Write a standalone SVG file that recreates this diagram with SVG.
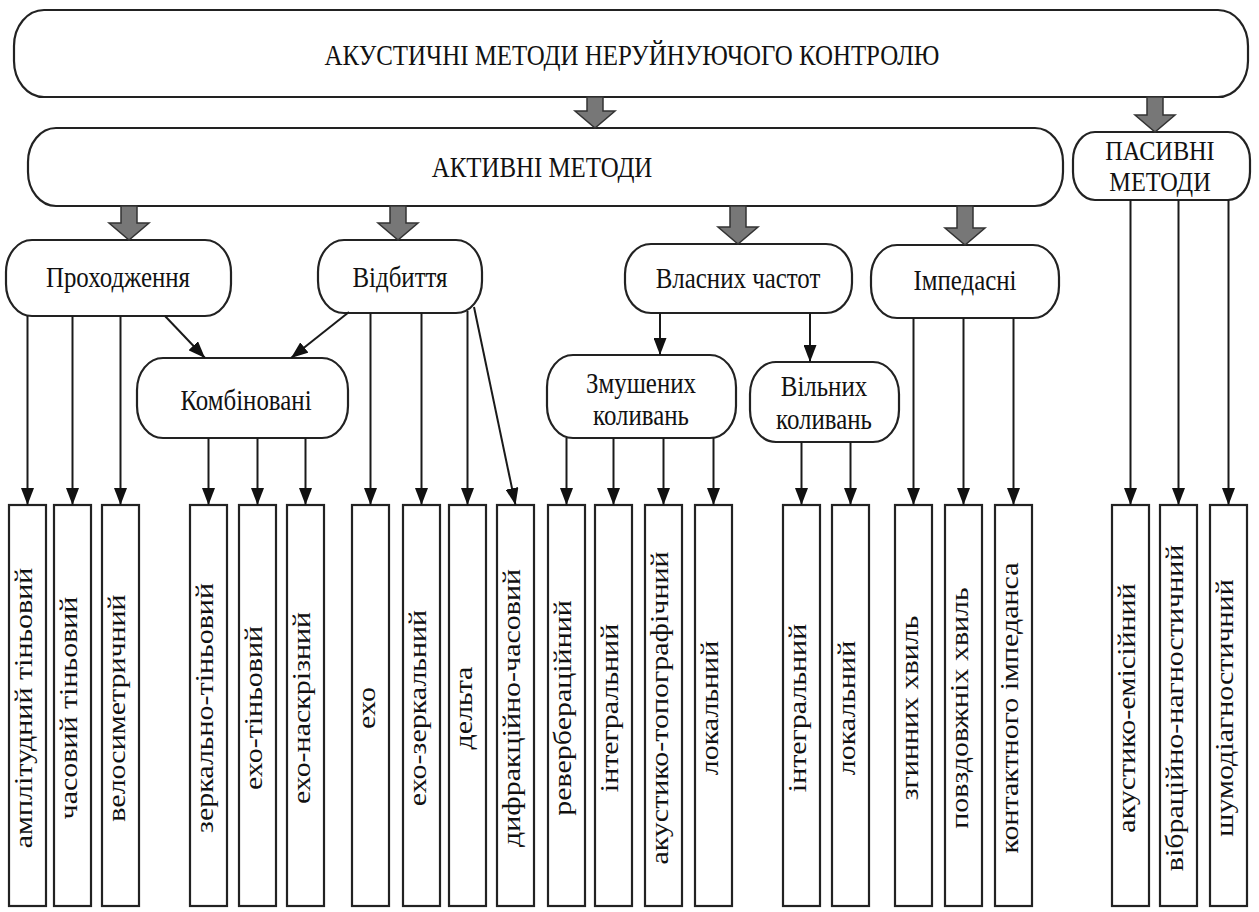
<svg xmlns="http://www.w3.org/2000/svg" width="1259" height="912" viewBox="0 0 1259 912">
  <style>
    .box { fill: #ffffff; stroke: #222222; stroke-width: 2.2; }
    .leaf { fill: #ffffff; stroke: #222222; stroke-width: 2.2; }
    .lbl { font-family: "Liberation Serif", "Times New Roman", serif; font-size: 30px; fill: #111111; text-anchor: middle; }
    .lbl-sm { font-family: "Liberation Serif", "Times New Roman", serif; font-size: 27px; fill: #111111; text-anchor: middle; }
    .vlbl { font-family: "Liberation Serif", "Times New Roman", serif; font-size: 30px; fill: #111111; text-anchor: middle; }
    .con { fill: none; stroke: #1a1a1a; stroke-width: 2; marker-end: url(#tip); }
    .block { fill: #777777; stroke: #333333; stroke-width: 1.5; stroke-linejoin: miter; }
  </style>
  <defs>
    <marker id="tip" markerUnits="userSpaceOnUse" markerWidth="17" markerHeight="13" refX="17" refY="6.5" orient="auto">
      <path d="M0,0 L17,6.5 L0,13 Z" fill="#111111"/>
    </marker>
  </defs>

  <rect width="1259" height="912" fill="#ffffff"/>

  <!-- top level -->
  <g id="root">
    <rect class="box" x="14" y="10" width="1234" height="87" rx="30" ry="36"/>
    <text class="lbl" transform="translate(632 65) scale(0.83 1)">АКУСТИЧНІ МЕТОДИ НЕРУЙНУЮЧОГО КОНТРОЛЮ</text>
  </g>

  <g id="active">
    <rect class="box" x="28" y="128" width="1035" height="78" rx="28" ry="34"/>
    <text class="lbl" transform="translate(542 177) scale(0.83 1)">АКТИВНІ МЕТОДИ</text>
  </g>

  <g id="passive">
    <rect class="box" x="1073" y="132" width="177" height="68" rx="22" ry="28"/>
    <text class="lbl-sm" transform="translate(1160 160) scale(0.9 1)">ПАСИВНІ</text>
    <text class="lbl-sm" transform="translate(1160 191) scale(0.9 1)">МЕТОДИ</text>
  </g>

  <!-- second level -->
  <g id="transmission">
    <rect class="box" x="6" y="240" width="225" height="76" rx="26" ry="32"/>
    <text class="lbl" transform="translate(118 287) scale(0.83 1)">Проходження</text>
  </g>
  <g id="reflection">
    <rect class="box" x="318" y="240" width="164" height="73" rx="26" ry="32"/>
    <text class="lbl" transform="translate(400 287) scale(0.83 1)">Відбиття</text>
  </g>
  <g id="natural-freq">
    <rect class="box" x="625" y="244" width="227" height="69" rx="26" ry="30"/>
    <text class="lbl" transform="translate(738 288) scale(0.83 1)">Власних частот</text>
  </g>
  <g id="impedance">
    <rect class="box" x="871" y="245" width="188" height="73" rx="26" ry="32"/>
    <text class="lbl" transform="translate(965 290) scale(0.83 1)">Імпедасні</text>
  </g>

  <!-- third level -->
  <g id="combined">
    <rect class="box" x="137" y="358" width="211" height="80" rx="26" ry="32"/>
    <text class="lbl" transform="translate(246 410) scale(0.83 1)">Комбіновані</text>
  </g>
  <g id="forced">
    <rect class="box" x="547" y="355" width="189" height="83" rx="26" ry="32"/>
    <text class="lbl" transform="translate(641 393) scale(0.83 1)">Змушених</text>
    <text class="lbl" transform="translate(641 425) scale(0.83 1)">коливань</text>
  </g>
  <g id="free">
    <rect class="box" x="750" y="362" width="149" height="80" rx="26" ry="32"/>
    <text class="lbl" transform="translate(824 396) scale(0.83 1)">Вільних</text>
    <text class="lbl" transform="translate(824 429) scale(0.83 1)">коливань</text>
  </g>

  <!-- leaf methods -->
  <g id="leaf-01"><rect class="leaf" x="9" y="505" width="37" height="401"/><text class="vlbl" transform="translate(32 708) rotate(-90) scale(1 0.83)">амплітудний тіньовий</text></g>
  <g id="leaf-02"><rect class="leaf" x="54" y="505" width="37" height="401"/><text class="vlbl" transform="translate(77 708) rotate(-90) scale(1 0.83)">часовий тіньовий</text></g>
  <g id="leaf-03"><rect class="leaf" x="102" y="505" width="37" height="401"/><text class="vlbl" transform="translate(125 708) rotate(-90) scale(1 0.83)">велосиметричний</text></g>
  <g id="leaf-04"><rect class="leaf" x="190" y="505" width="37" height="401"/><text class="vlbl" transform="translate(213 708) rotate(-90) scale(1 0.83)">зеркально-тіньовий</text></g>
  <g id="leaf-05"><rect class="leaf" x="239" y="505" width="37" height="401"/><text class="vlbl" transform="translate(262 708) rotate(-90) scale(1 0.83)">ехо-тіньовий</text></g>
  <g id="leaf-06"><rect class="leaf" x="287" y="505" width="37" height="401"/><text class="vlbl" transform="translate(310 708) rotate(-90) scale(1 0.83)">ехо-наскрізний</text></g>
  <g id="leaf-07"><rect class="leaf" x="352" y="505" width="37" height="401"/><text class="vlbl" transform="translate(375 708) rotate(-90) scale(1 0.83)">ехо</text></g>
  <g id="leaf-08"><rect class="leaf" x="403" y="505" width="37" height="401"/><text class="vlbl" transform="translate(426 708) rotate(-90) scale(1 0.83)">ехо-зеркальний</text></g>
  <g id="leaf-09"><rect class="leaf" x="449" y="505" width="37" height="401"/><text class="vlbl" transform="translate(472 708) rotate(-90) scale(1 0.83)">дельта</text></g>
  <g id="leaf-10"><rect class="leaf" x="497" y="505" width="37" height="401"/><text class="vlbl" transform="translate(520 708) rotate(-90) scale(1 0.83)">дифракційно-часовий</text></g>
  <g id="leaf-11"><rect class="leaf" x="548" y="505" width="37" height="401"/><text class="vlbl" transform="translate(571 708) rotate(-90) scale(1 0.83)">ревербераційний</text></g>
  <g id="leaf-12"><rect class="leaf" x="595" y="505" width="37" height="401"/><text class="vlbl" transform="translate(618 708) rotate(-90) scale(1 0.83)">інтегральний</text></g>
  <g id="leaf-13"><rect class="leaf" x="645" y="505" width="37" height="401"/><text class="vlbl" transform="translate(668 708) rotate(-90) scale(1 0.83)">акустико-топографічний</text></g>
  <g id="leaf-14"><rect class="leaf" x="695" y="505" width="37" height="401"/><text class="vlbl" transform="translate(718 708) rotate(-90) scale(1 0.83)">локальний</text></g>
  <g id="leaf-15"><rect class="leaf" x="783" y="505" width="37" height="401"/><text class="vlbl" transform="translate(806 708) rotate(-90) scale(1 0.83)">інтегральний</text></g>
  <g id="leaf-16"><rect class="leaf" x="832" y="505" width="37" height="401"/><text class="vlbl" transform="translate(855 708) rotate(-90) scale(1 0.83)">локальний</text></g>
  <g id="leaf-17"><rect class="leaf" x="895" y="505" width="37" height="401"/><text class="vlbl" transform="translate(918 708) rotate(-90) scale(1 0.83)">згинних хвиль</text></g>
  <g id="leaf-18"><rect class="leaf" x="945" y="505" width="37" height="401"/><text class="vlbl" transform="translate(968 708) rotate(-90) scale(1 0.83)">повздовжніх хвиль</text></g>
  <g id="leaf-19"><rect class="leaf" x="995" y="505" width="37" height="401"/><text class="vlbl" transform="translate(1018 708) rotate(-90) scale(1 0.83)">контактного імпеданса</text></g>
  <g id="leaf-20"><rect class="leaf" x="1112" y="505" width="37" height="401"/><text class="vlbl" transform="translate(1135 708) rotate(-90) scale(1 0.83)">акустико-емісійний</text></g>
  <g id="leaf-21"><rect class="leaf" x="1160" y="505" width="37" height="401"/><text class="vlbl" transform="translate(1183 708) rotate(-90) scale(1 0.83)">вібраційно-нагностичний</text></g>
  <g id="leaf-22"><rect class="leaf" x="1210" y="505" width="37" height="401"/><text class="vlbl" transform="translate(1233 708) rotate(-90) scale(1 0.83)">шумодіагностичний</text></g>

  <!-- connectors -->
  <g id="connectors">
    <!-- wide grey arrows between category levels -->
    <path class="block" d="M587,97 L603,97 L603,111 L615,111 L595,128 L575,111 L587,111 Z"/>
    <path class="block" d="M1147,97 L1163,97 L1163,115 L1175,115 L1155,132 L1135,115 L1147,115 Z"/>
    <path class="block" d="M121,206 L137,206 L137,223 L149,223 L129,240 L109,223 L121,223 Z"/>
    <path class="block" d="M390,206 L406,206 L406,223 L418,223 L398,240 L378,223 L390,223 Z"/>
    <path class="block" d="M730,206 L746,206 L746,227 L758,227 L738,244 L718,227 L730,227 Z"/>
    <path class="block" d="M957,206 L973,206 L973,228 L985,228 L965,245 L945,228 L957,228 Z"/>

    <!-- Проходження -->
    <line class="con" x1="27.5" y1="316" x2="27.5" y2="505"/>
    <line class="con" x1="72.5" y1="316" x2="72.5" y2="505"/>
    <line class="con" x1="120.5" y1="316" x2="120.5" y2="505"/>
    <line class="con" x1="165" y1="316" x2="205" y2="358"/>

    <!-- Відбиття -->
    <line class="con" x1="349" y1="312" x2="291" y2="358"/>
    <line class="con" x1="370.5" y1="313" x2="370.5" y2="505"/>
    <line class="con" x1="421.5" y1="313" x2="421.5" y2="505"/>
    <line class="con" x1="467.5" y1="311" x2="467.5" y2="505"/>
    <line class="con" x1="474" y1="307" x2="515.5" y2="505"/>

    <!-- Комбіновані -->
    <line class="con" x1="208.5" y1="438" x2="208.5" y2="505"/>
    <line class="con" x1="257.5" y1="438" x2="257.5" y2="505"/>
    <line class="con" x1="305.5" y1="438" x2="305.5" y2="505"/>

    <!-- Власних частот -->
    <line class="con" x1="660" y1="313" x2="660" y2="355"/>
    <line class="con" x1="810" y1="313" x2="810" y2="362"/>

    <!-- Змушених коливань -->
    <line class="con" x1="566.5" y1="438" x2="566.5" y2="505"/>
    <line class="con" x1="613.5" y1="438" x2="613.5" y2="505"/>
    <line class="con" x1="663.5" y1="438" x2="663.5" y2="505"/>
    <line class="con" x1="713.5" y1="438" x2="713.5" y2="505"/>

    <!-- Вільних коливань -->
    <line class="con" x1="801.5" y1="442" x2="801.5" y2="505"/>
    <line class="con" x1="850.5" y1="442" x2="850.5" y2="505"/>

    <!-- Імпедасні -->
    <line class="con" x1="913.5" y1="318" x2="913.5" y2="505"/>
    <line class="con" x1="963.5" y1="318" x2="963.5" y2="505"/>
    <line class="con" x1="1013.5" y1="318" x2="1013.5" y2="505"/>

    <!-- Пасивні -->
    <line class="con" x1="1130.5" y1="200" x2="1130.5" y2="505"/>
    <line class="con" x1="1178.5" y1="200" x2="1178.5" y2="505"/>
    <line class="con" x1="1228.5" y1="200" x2="1228.5" y2="505"/>
  </g>
</svg>
